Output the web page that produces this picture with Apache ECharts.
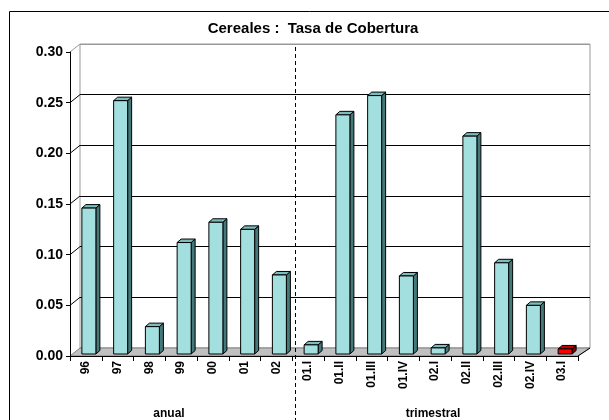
<!DOCTYPE html>
<html>
<head>
<meta charset="utf-8">
<script src="https://cdn.jsdelivr.net/npm/echarts@6/dist/echarts.min.js"></script>
<style>
html,body{margin:0;padding:0;background:#fff;}
#main{width:609px;height:420px;}
</style>
</head>
<body>
<div id="main"></div>
<script>
const categories = ['96','97','98','99','00','01','02','01.I','01.II','01.III','01.IV','02.I','02.II','02.III','02.IV','03.I'];
const values = [0.144,0.250,0.027,0.110,0.130,0.123,0.078,0.009,0.236,0.255,0.077,0.006,0.215,0.090,0.048,0.005];
const highlighted = ['03.I'];
const yTicks = [0,0.05,0.10,0.15,0.20,0.25,0.30];
const titleText = 'Cereales :  Tasa de Cobertura';
const groupLabels = ['anual','trimestral'];

const FONT = 'Liberation Sans, Arial, sans-serif';
const chart = echarts.init(document.getElementById('main'));

const barData = values.map((v, i) => [i, v]);

function renderBar(params, api) {
  const i = api.value(0), v = api.value(1);
  const c = api.coord([i, v]);
  const b = api.coord([i, 0]);
  const L = c[0] - 4, R = c[0] + 10;
  const top = c[1] - 2, bot = b[1] - 2;
  const dx = 4, dy = 3.5;
  const red = highlighted.indexOf(categories[i]) >= 0;
  const front = red ? '#ff0000' : '#a3dfdf';
  const side = red ? '#800000' : '#457878';
  const cap = red ? '#c00000' : '#7cbcbc';
  const st = {stroke: '#000', lineWidth: 1};
  return {
    type: 'group',
    children: [
      {type: 'polygon', shape: {points: [[R, top], [R + dx, top - dy], [R + dx, bot - dy], [R, bot]]}, style: Object.assign({fill: side}, st)},
      {type: 'polygon', shape: {points: [[L, top], [L + dx, top - dy], [R + dx, top - dy], [R, top]]}, style: Object.assign({fill: cap}, st)},
      {type: 'rect', shape: {x: L, y: top, width: R - L, height: bot - top}, style: Object.assign({fill: front}, st)}
    ]
  };
}

function renderWall(params, api) {
  const v = api.value(0);
  const cs = params.coordSys;
  const x0 = cs.x, w = cs.width;
  const y = api.coord([0, v])[1];
  const children = [];
  if (v === 0) {
    children.push({type: 'polygon', shape: {points: [[x0, y], [x0 + w, y], [x0 + w + 12, y - 8], [x0 + 10, y - 8]]},
      style: {fill: '#c0c0c0', stroke: '#808080', lineWidth: 1}});
    children.push({type: 'line', shape: {x1: x0 + w, y1: y, x2: x0 + w + 12, y2: y - 8}, style: {stroke: '#000', lineWidth: 1}});
  } else {
    children.push({type: 'line', shape: {x1: x0, y1: y, x2: x0 + 10, y2: y - 8},
      style: {stroke: v >= 0.3 ? '#999' : '#000', lineWidth: 1}});
  }
  return {type: 'group', children: children};
}

const option = {
  backgroundColor: '#fff',
  animation: false,
  grid: [
    {left: 70, top: 52, width: 508, height: 304, show: false},
    {left: 80, top: 44, width: 510, height: 304, show: true, borderColor: '#999', borderWidth: 1, backgroundColor: 'transparent'}
  ],
  xAxis: [
    {type: 'category', gridIndex: 0, data: categories, boundaryGap: true,
      axisLine: {show: true, lineStyle: {color: '#000', width: 1}},
      axisTick: {show: true, length: 5, interval: 0, lineStyle: {color: '#000'}},
      axisLabel: {rotate: 90, interval: 0, margin: 5, color: '#000', fontFamily: FONT, fontWeight: 'bold', fontSize: 12},
      z: 5},
    {type: 'category', gridIndex: 1, data: categories, show: false}
  ],
  yAxis: [
    {type: 'value', gridIndex: 0, min: 0, max: 0.3, interval: 0.05,
      axisLine: {show: true, lineStyle: {color: '#000', width: 1}},
      axisTick: {show: true, length: 4, lineStyle: {color: '#000'}},
      splitLine: {show: false},
      axisLabel: {margin: 7, color: '#000', fontFamily: FONT, fontWeight: 'bold', fontSize: 14,
        formatter: v => v.toFixed(2)},
      z: 5},
    {type: 'value', gridIndex: 1, min: 0, max: 0.3, interval: 0.05,
      axisLine: {show: false}, axisTick: {show: false}, axisLabel: {show: false},
      splitLine: {show: true, lineStyle: {color: ['#999', '#000', '#000', '#000', '#000', '#000', '#999'], width: 1}}}
  ],
  series: [
    {type: 'custom', xAxisIndex: 0, yAxisIndex: 0, data: yTicks.map(v => [v]), renderItem: renderWall, silent: true, z: 1},
    {type: 'custom', xAxisIndex: 0, yAxisIndex: 0, data: barData, renderItem: renderBar, z: 3,
      encode: {x: 0, y: 1}}
  ],
  graphic: [
    {type: 'rect', shape: {x: 9.5, y: 11.5, width: 700, height: 500}, style: {fill: 'none', stroke: '#000', lineWidth: 1}, silent: true, z: 10},
    {type: 'line', shape: {x1: 295.5, y1: 47, x2: 295.5, y2: 420}, style: {stroke: '#000', lineWidth: 1, lineDash: [4, 3]}, silent: true, z: 10},
    {type: 'text', x: 313, y: 29, style: {text: titleText, fill: '#000', font: 'bold 15px ' + FONT, textAlign: 'center', textVerticalAlign: 'middle'}, z: 10},
    {type: 'text', x: 169, y: 414, style: {text: groupLabels[0], fill: '#000', font: 'bold 12px ' + FONT, textAlign: 'center', textVerticalAlign: 'middle'}, z: 10},
    {type: 'text', x: 433, y: 414, style: {text: groupLabels[1], fill: '#000', font: 'bold 12px ' + FONT, textAlign: 'center', textVerticalAlign: 'middle'}, z: 10}
  ]
};
chart.setOption(option);
</script>
</body>
</html>
